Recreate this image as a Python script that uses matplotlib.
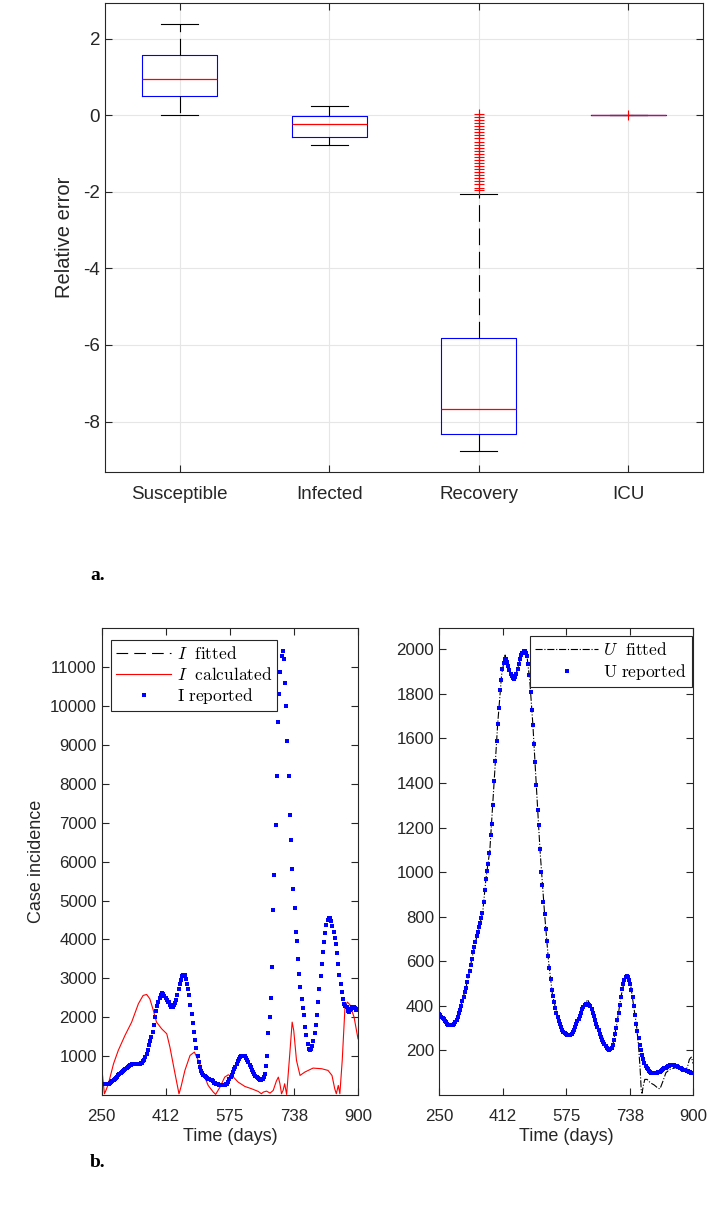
import numpy as np
import matplotlib.pyplot as plt
from matplotlib.lines import Line2D

plt.rcParams['font.family'] = ['Liberation Sans', 'DejaVu Sans']
plt.rcParams['mathtext.fontset'] = 'cm'
plt.rcParams['axes.unicode_minus'] = False

# ---- a. boxplot of relative errors ----
box_names = ['Susceptible', 'Infected', 'Recovery', 'ICU']
box_whislo = [0.0, -0.775, -8.76, 0.0]
box_q1 = [0.51, -0.575, -8.32, 0.0]
box_med = [0.94, -0.235, -7.66, 0.0]
box_q3 = [1.56, -0.01, -5.82, 0.0]
box_whishi = [2.37, 0.24, -2.07, 0.0]
recovery_outliers = [0.03, -0.05, -0.13, -0.21, -0.29, -0.37, -0.45, -0.53, -0.61,
                     -0.69, -0.77, -0.85, -0.93, -1.01, -1.09, -1.17, -1.25, -1.33,
                     -1.41, -1.49, -1.57, -1.65, -1.73, -1.81, -1.89, -1.95]
icu_outliers = [0.0]
box_fliers = [[], [], recovery_outliers, icu_outliers]

# ---- b. case incidence, one value every 3 days from day 250 ----
days = np.arange(250, 901, 3)

I_reported = [
    272, 275, 278, 282, 285, 288, 292, 310, 335, 362,            # 250
    388, 412, 440, 470, 505, 535, 565, 590, 620, 650,            # 280
    680, 705, 730, 750, 770, 783, 788, 788, 786, 785,            # 310
    787, 792, 800, 812, 835, 870, 910, 970, 1060, 1160,          # 340
    1290, 1400, 1500, 1630, 1800, 2000, 2150, 2280, 2390, 2490,  # 370
    2570, 2610, 2590, 2550, 2490, 2440, 2400, 2380, 2320, 2270,  # 400
    2270, 2310, 2370, 2450, 2580, 2720, 2860, 2960, 3050, 3095,  # 430
    3080, 2980, 2860, 2720, 2560, 2320, 2090, 1850, 1620, 1420,  # 460
    1200, 1000, 840, 720, 620, 560, 520, 490, 460, 440,          # 490
    420, 405, 390, 375, 350, 320, 300, 290, 275, 262,            # 520
    252, 247, 246, 250, 260, 275, 295, 340, 400, 460,            # 550
    520, 590, 660, 730, 800, 870, 930, 975, 1005, 1015,          # 580
    1015, 995, 960, 900, 845, 780, 710, 650, 590, 540,           # 610
    495, 455, 425, 400, 385, 378, 400, 460, 540, 740,            # 640
    1000, 1600, 2000, 2500, 3300, 4750, 5650, 6950, 8200, 9600,  # 670
    10300, 10870, 11280, 11410, 11200, 10600, 10000, 9100, 8200, 7200,  # 700
    6550, 5800, 5300, 4800, 4200, 3950, 3500, 3110, 2770, 2480,  # 730
    2240, 2050, 1750, 1530, 1320, 1190, 1146, 1170, 1260, 1390,  # 760
    1600, 1810, 2050, 2400, 2730, 3060, 3370, 3670, 3930, 4170,  # 790
    4370, 4490, 4545, 4560, 4480, 4340, 4200, 4040, 3880, 3660,  # 820
    3370, 3080, 2860, 2650, 2470, 2350, 2290, 2250, 2160, 2140,  # 850
    2180, 2220, 2250, 2250, 2230, 2190, 2200,                    # 880
]

# I calculated (red line), read at irregular days
I_calc_days = [250, 253, 257, 262, 267, 280, 292, 309, 326, 343, 355, 364, 372, 381,
               389, 402, 415, 423, 436, 446, 451, 461, 474, 485, 495, 508, 520, 533,
               539, 550, 562, 571, 584, 596, 613, 630, 647, 655, 660, 668, 677, 685,
               693, 698, 702, 706, 710, 714, 719, 727, 733, 737, 744, 753, 765, 786,
               808, 824, 834, 841, 845, 850, 854, 860, 867, 873, 879, 890, 900]
I_calc = [760, 400, 30, 150, 289, 803, 1146, 1531, 1874, 2345, 2560, 2585, 2474, 2174,
          1874, 1703, 1574, 1232, 546, 30, 204, 632, 1017, 1103, 889, 546, 246, 75,
          15, 204, 460, 520, 460, 332, 220, 161, 92, 32, 75, 100, 49, 118,
          358, 460, 289, 32, 118, 289, 15, 1060, 1874, 1660, 889, 503, 589, 692,
          675, 632, 503, 161, 32, 246, 32, 889, 2260, 2388, 2328, 2003, 1446]

U_reported = [
    362, 358, 352, 346, 340, 333, 326, 320, 316, 313,            # 250
    312, 312, 313, 318, 326, 336, 350, 366, 382, 400,            # 280
    420, 440, 462, 482, 505, 532, 558, 585, 612, 640,            # 310
    662, 688, 712, 732, 752, 770, 792, 818, 865, 920,            # 340
    970, 1005, 1037, 1085, 1168, 1215, 1300, 1410, 1500, 1590,   # 370
    1665, 1735, 1817, 1860, 1910, 1940, 1957, 1955, 1945, 1925,  # 400
    1905, 1890, 1878, 1870, 1868, 1875, 1890, 1912, 1935, 1955,  # 430
    1972, 1985, 1990, 1993, 1985, 1968, 1935, 1885, 1810, 1727,  # 460
    1660, 1575, 1493, 1390, 1280, 1210, 1104, 1000, 940, 865,    # 490
    810, 745, 690, 625, 570, 520, 470, 445, 418, 392,            # 520
    370, 348, 332, 318, 305, 293, 283, 277, 273, 270,            # 550
    268, 268, 270, 274, 281, 292, 305, 318, 330, 342,            # 580
    356, 370, 385, 396, 403, 408, 410, 410, 406, 398,            # 610
    385, 370, 355, 338, 320, 305, 290, 275, 262, 248,            # 640
    238, 228, 218, 210, 206, 204, 206, 212, 225, 245,            # 670
    275, 300, 335, 370, 405, 440, 475, 500, 518, 528,            # 700
    533, 528, 515, 497, 470, 440, 400, 360, 320, 285,            # 730
    255, 225, 200, 180, 160, 145, 132, 122, 115, 108,            # 760
    102, 99, 97, 97, 97, 98, 100, 102, 104, 107,                 # 790
    111, 115, 119, 123, 127, 130, 132, 133, 134, 134,            # 820
    133, 132, 130, 128, 126, 123, 120, 117, 114, 112,            # 850
    110, 108, 106, 104, 101, 99, 97,                             # 880
]

# U fitted (dash-dot line), read at irregular days
U_fit_days = [250, 270, 285, 300, 320, 340, 355, 362, 370, 380, 390, 400, 410, 419,
              425, 432, 440, 450, 460, 468, 475, 482, 490, 500, 508, 520, 530, 540,
              555, 570, 583, 595, 610, 620, 630, 640, 650, 660, 668, 676, 685, 695,
              705, 715, 725, 730, 740, 750, 755, 760, 764, 767, 769, 772, 776, 782,
              790, 800, 810, 815, 822, 830, 840, 850, 860, 870, 878, 885, 890, 895, 900]
U_fit = [362, 322, 312, 362, 490, 662, 770, 825, 970, 1100, 1380, 1665, 1885, 1974,
         1940, 1895, 1866, 1905, 1972, 1995, 1968, 1860, 1660, 1350, 1104, 810, 600, 450,
         336, 278, 268, 292, 356, 400, 428, 390, 330, 290, 260, 220, 205, 230,
         325, 440, 522, 533, 490, 370, 310, 220, 120, 20, 8, 40, 70, 70,
         55, 45, 30, 28, 60, 100, 115, 120, 125, 120, 105, 125, 160, 170, 140]

x_ticks = [250, 412.5, 575, 737.5, 900]
x_tick_labels = ['250', '412', '575', '738', '900']

dark = '0.15'
msize = 3.4

fig = plt.figure(figsize=(7.08, 12.09), dpi=100)


def style_axes(ax, size):
    ax.tick_params(direction='in', top=True, right=True, length=5, width=0.8,
                   labelsize=size, colors=dark)
    ax.tick_params(axis='x', pad=10)
    for s in ax.spines.values():
        s.set_color(dark)
        s.set_linewidth(0.8)


# ---------------- a. ----------------
ax1 = fig.add_axes([105 / 708, 1 - 471.7 / 1209, 598 / 708, 468.4 / 1209])
stats = []
for i in range(len(box_names)):
    stats.append(dict(label=box_names[i], whislo=box_whislo[i], q1=box_q1[i],
                      med=box_med[i], q3=box_q3[i], whishi=box_whishi[i],
                      fliers=box_fliers[i]))
ax1.bxp(stats, positions=[1, 2, 3, 4], widths=0.5, capwidths=0.25,
        boxprops=dict(color='blue', linewidth=0.8),
        medianprops=dict(color='red', linewidth=0.9, zorder=3),
        whiskerprops=dict(color='black', linewidth=0.8, linestyle=(0, (15, 6))),
        capprops=dict(color='black', linewidth=0.8),
        flierprops=dict(marker='+', markeredgecolor='red', markersize=7.5,
                        markeredgewidth=0.8))
ax1.set_xlim(0.5, 4.5)
ax1.set_ylim(-9.31, 2.92)
ax1.set_yticks([-8, -6, -4, -2, 0, 2])
ax1.grid(True, color='0.9', linewidth=0.8)
ax1.set_axisbelow(True)
style_axes(ax1, 13.5)
ax1.set_ylabel('Relative error', fontsize=14.5, color=dark)
ax1.yaxis.set_label_coords(-0.052, 0.5)

# ---------------- b. left ----------------
ax2 = fig.add_axes([101.7 / 708, 1 - 1095 / 1209, 256.3 / 708, 466.7 / 1209])
ax2.plot(I_calc_days, I_calc, color='red', linewidth=0.8)
ax2.plot(days, I_reported, linestyle='none', marker='s', markersize=msize,
         markeredgewidth=0, color='blue')
ax2.set_xlim(250, 900)
ax2.set_ylim(0, 12000)
ax2.set_yticks(range(1000, 11001, 1000))
ax2.set_xticks(x_ticks)
ax2.set_xticklabels(x_tick_labels)
style_axes(ax2, 12.2)
ax2.set_xlabel('Time (days)', fontsize=13, color=dark, labelpad=3)
ax2.set_ylabel('Case incidence', fontsize=13, color=dark)
ax2.yaxis.set_label_coords(-0.22, 0.5)

h_fit = Line2D([], [], color='black', linewidth=0.8, linestyle=(0, (10.5, 5.5)))
h_calc = Line2D([], [], color='red', linewidth=0.8)
h_rep = Line2D([], [], linestyle='none', marker='s', markersize=msize,
               markeredgewidth=0, color='blue')
leg = ax2.legend([h_fit, h_calc, h_rep],
                 [r'$I\ \ \mathrm{fitted}$', r'$I\ \ \mathrm{calculated}$',
                  r'$\mathrm{I\ reported}$'],
                 loc='upper left', bbox_to_anchor=(0.035, 0.975), fontsize=12.5,
                 frameon=True, fancybox=False, framealpha=1, edgecolor=dark,
                 handlelength=3.2, handletextpad=0.3, labelspacing=0.2,
                 borderpad=0.3, borderaxespad=0)
leg.get_frame().set_linewidth(0.8)

# ---------------- b. right ----------------
ax3 = fig.add_axes([439 / 708, 1 - 1095 / 1209, 254.3 / 708, 466.7 / 1209])
ax3.plot(U_fit_days, U_fit, color='black', linewidth=0.8, linestyle='-.')
ax3.plot(days, U_reported, linestyle='none', marker='s', markersize=msize,
         markeredgewidth=0, color='blue')
ax3.set_xlim(250, 900)
ax3.set_ylim(0, 2094)
ax3.set_yticks(range(200, 2001, 200))
ax3.set_xticks(x_ticks)
ax3.set_xticklabels(x_tick_labels)
style_axes(ax3, 12.2)
ax3.set_xlabel('Time (days)', fontsize=13, color=dark, labelpad=3)

h_ufit = Line2D([], [], color='black', linewidth=0.8, linestyle='-.')
leg2 = ax3.legend([h_ufit, h_rep],
                  [r'$U\ \ \mathrm{fitted}$', r'$\mathrm{U\ reported}$'],
                  loc='upper right', bbox_to_anchor=(0.9937, 0.9835), fontsize=12.5,
                  frameon=True, fancybox=False, framealpha=1, edgecolor=dark,
                  handlelength=3.6, handletextpad=0.3, labelspacing=0.2,
                  borderpad=0.3, borderaxespad=0)
leg2.get_frame().set_linewidth(0.8)

# panel letters
fig.text(90 / 708, 1 - 580 / 1209, 'a.', fontfamily='Liberation Serif',
         fontweight='bold', fontsize=14, va='baseline')
fig.text(90 / 708, 1 - 1167 / 1209, 'b.', fontfamily='Liberation Serif',
         fontweight='bold', fontsize=14, va='baseline')

fig.savefig('out.png', dpi=100)
